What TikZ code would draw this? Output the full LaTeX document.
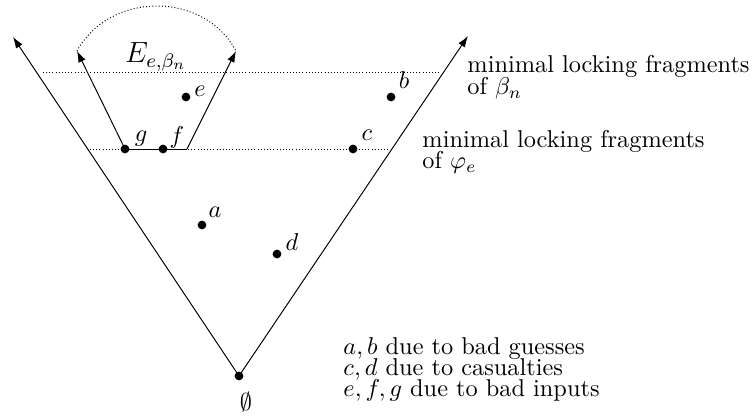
\documentclass[tikz,border=0pt]{standalone}
\usepackage{amsmath,amssymb}
\usetikzlibrary{arrows.meta}

\begin{document}
\begin{tikzpicture}[x=0.411pt, y=-0.411pt, >={Latex[length=4.6pt,width=3.2pt]},
	dot/.style={circle, fill, inner sep=0pt, minimum size=3.6pt},
	lbl/.style={inner sep=0pt},
	txt/.style={anchor=base west, inner sep=0pt},
	level/.style={dash pattern=on 0.4pt off 0.9pt}]
	\useasboundingbox (0,0) rectangle (754,418);
	% the cone rooted at the empty set
	\node[dot] (root) at (239,376) {};
	\node[anchor=base] (empty) at (246,411) {$\emptyset$};
	\coordinate (ltip) at (13,37);
	\coordinate (rtip) at (468,36);
	\draw[->] (root.center) -- (ltip);
	\draw[->] (root.center) -- (rtip);
	% the two levels
	\coordinate (topl) at (43,72);
	\coordinate (topr) at (441,72);
	\coordinate (lowl) at (90,149);
	\coordinate (lowr) at (390,149);
	\draw[level] (topl) -- (topr);
	\draw[level] (lowl) -- (lowr);
	% the extension E
	\node[dot] (g) at (125,149) {};
	\node[dot] (f) at (163,149) {};
	\coordinate (fend) at (187,149);
	\coordinate (etl) at (77,51);
	\coordinate (etr) at (236,51);
	\draw (g.center) -- (fend);
	\draw[->] (g.center) -- (etl);
	\draw[->] (fend) -- (etr);
	\draw[level] (etl) .. controls (110,-9) and (204,-9) .. (etr);
	\node[lbl, font=\large] (elab) at (156,57) {$E_{e,\beta_n}$};
	% the fragments
	\node[dot] (e) at (186,97) {};
	\node[dot] (b) at (391,97) {};
	\node[dot] (c) at (353,149) {};
	\node[dot] (a) at (202,225) {};
	\node[dot] (d) at (277,254) {};
	\node[lbl] at (141,139) {$g$};
	\node[lbl] at (177,137) {$f$};
	\node[lbl] at (200,91) {$e$};
	\node[lbl] at (404,80) {$b$};
	\node[lbl] at (367,135) {$c$};
	\node[lbl] at (215,212) {$a$};
	\node[lbl] at (292,242) {$d$};
	% texts on the right
	\node[txt] (betatxt) at (467,73) {minimal locking fragments};
	\node[txt] at (467,95) {of $\beta_n$};
	\node[txt] (phitxt) at (422,148) {minimal locking fragments};
	\node[txt] at (422,169) {of $\varphi_e$};
	\node[txt] (why1) at (343,355) {$a,b$ due to bad guesses};
	\node[txt] (why2) at (343,376) {$c,d$ due to casualties};
	\node[txt] (why3) at (343,397) {$e,f,g$ due to bad inputs};
\end{tikzpicture}
\end{document}
